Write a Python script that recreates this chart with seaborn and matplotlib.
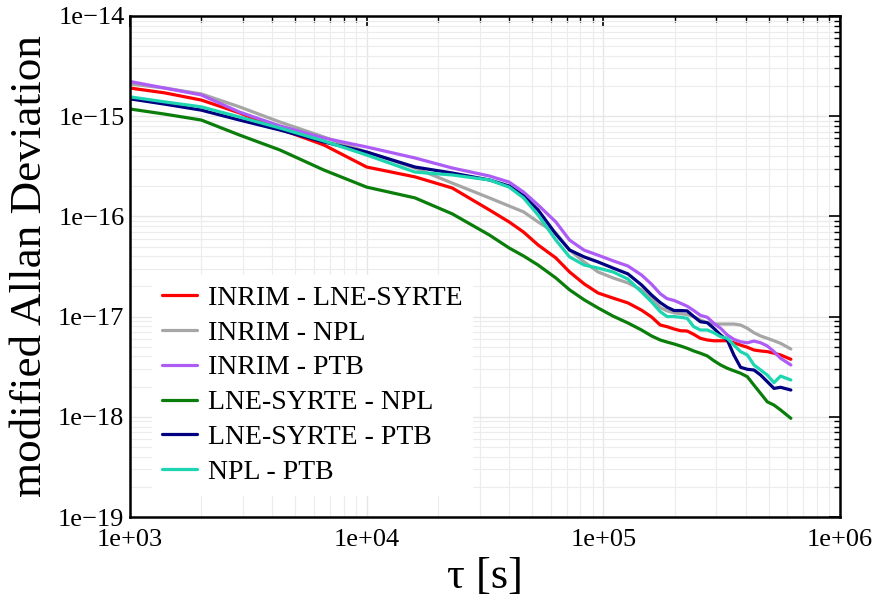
import numpy as np
import pandas as pd
import matplotlib
matplotlib.use("Agg")
import matplotlib.pyplot as plt
from matplotlib.ticker import FuncFormatter, FixedLocator, NullFormatter
import seaborn as sns

# Averaging times [s]
tau = [1000, 1400, 2000, 2900, 4300, 6600, 10000, 16000, 23000, 33000,
       40000, 46000, 53000, 63000, 72000, 83000, 95000, 110000, 127000, 145000,
       160000, 174000, 186000, 199000, 212000, 226000, 241000, 257000, 275000, 293000,
       313000, 334000, 356000, 380000, 406000, 433000, 462000, 493000, 526000, 561000,
       620000]

# Modified Allan deviation of each clock-pair comparison
inrim_lne = [1.91e-15, 1.71e-15, 1.45e-15, 1.08e-15, 7.45e-16, 5.16e-16, 3.11e-16, 2.48e-16, 1.92e-16, 1.16e-16,
             8.8e-17, 6.98e-17, 5.19e-17, 3.85e-17, 2.79e-17, 2.12e-17, 1.72e-17, 1.53e-17, 1.37e-17, 1.16e-17,
             9.9e-18, 8.24e-18, 7.93e-18, 7.52e-18, 7.23e-18, 7.18e-18, 6.65e-18, 6.07e-18, 5.84e-18, 5.74e-18,
             5.74e-18, 5.74e-18, 5.48e-18, 5.20e-18, 4.94e-18, 4.64e-18, 4.54e-18, 4.47e-18, 4.31e-18, 4.14e-18,
             3.75e-18]
inrim_npl = [2.10e-15, 1.91e-15, 1.67e-15, 1.24e-15, 8.75e-16, 6.20e-16, 4.39e-16, 3.04e-16, 2.15e-16, 1.53e-16,
             1.27e-16, 1.11e-16, 8.8e-17, 6.83e-17, 4.62e-17, 3.51e-17, 2.79e-17, 2.43e-17, 2.17e-17, 1.85e-17,
             1.53e-17, 1.23e-17, 1.14e-17, 1.09e-17, 1.07e-17, 1.05e-17, 1.0e-17, 9.25e-18, 8.69e-18, 8.43e-18,
             8.43e-18, 8.43e-18, 8.43e-18, 8.24e-18, 7.64e-18, 6.90e-18, 6.40e-18, 6.07e-18, 5.74e-18, 5.41e-18,
             4.75e-18]
inrim_ptb = [2.22e-15, 1.91e-15, 1.63e-15, 1.10e-15, 8.0e-16, 6.05e-16, 4.93e-16, 3.83e-16, 3.04e-16, 2.53e-16,
             2.20e-16, 1.75e-16, 1.30e-16, 8.8e-17, 5.8e-17, 4.6e-17, 4.1e-17, 3.6e-17, 3.2e-17, 2.6e-17,
             2.1e-17, 1.69e-17, 1.51e-17, 1.45e-17, 1.36e-17, 1.27e-17, 1.15e-17, 1.03e-17, 9.84e-18, 8.57e-18,
             7.64e-18, 6.55e-18, 5.93e-18, 5.61e-18, 5.48e-18, 5.70e-18, 5.48e-18, 5.09e-18, 4.47e-18, 3.84e-18,
             3.29e-18]
lne_npl = [1.18e-15, 1.05e-15, 9.16e-16, 6.49e-16, 4.60e-16, 2.90e-16, 1.96e-16, 1.53e-16, 1.06e-16, 6.52e-17,
           4.84e-17, 4.03e-17, 3.27e-17, 2.43e-17, 1.85e-17, 1.47e-17, 1.22e-17, 1.01e-17, 8.64e-18, 7.35e-18,
           6.40e-18, 5.84e-18, 5.57e-18, 5.33e-18, 5.09e-18, 4.83e-18, 4.54e-18, 4.31e-18, 4.05e-18, 3.63e-18,
           3.29e-18, 3.05e-18, 2.88e-18, 2.72e-18, 2.51e-18, 2.07e-18, 1.71e-18, 1.41e-18, 1.31e-18, 1.17e-18,
           9.66e-19]
lne_ptb = [1.49e-15, 1.32e-15, 1.15e-15, 9.16e-16, 7.28e-16, 5.53e-16, 4.39e-16, 3.11e-16, 2.71e-16, 2.31e-16,
           2.01e-16, 1.60e-16, 1.16e-16, 6.67e-17, 4.62e-17, 3.94e-17, 3.51e-17, 3.05e-17, 2.67e-17, 2.07e-17,
           1.64e-17, 1.38e-17, 1.24e-17, 1.15e-17, 1.15e-17, 1.14e-17, 1.0e-17, 8.89e-18, 8.69e-18, 7.64e-18,
           6.55e-18, 5.84e-18, 4.14e-18, 3.12e-18, 2.98e-18, 2.93e-18, 2.61e-18, 2.24e-18, 1.92e-18, 1.97e-18,
           1.85e-18]
npl_ptb = [1.56e-15, 1.39e-15, 1.24e-15, 9.82e-16, 7.62e-16, 5.65e-16, 4.10e-16, 2.77e-16, 2.59e-16, 2.31e-16,
           1.96e-16, 1.53e-16, 1.03e-16, 5.81e-17, 3.94e-17, 3.27e-17, 3.05e-17, 2.79e-17, 2.37e-17, 1.76e-17,
           1.40e-17, 1.12e-17, 1.0e-17, 1.0e-17, 9.84e-18, 9.62e-18, 7.93e-18, 7.35e-18, 7.35e-18, 6.90e-18,
           6.30e-18, 6.07e-18, 5.20e-18, 4.47e-18, 4.14e-18, 3.29e-18, 2.93e-18, 2.61e-18, 2.19e-18, 2.55e-18,
           2.33e-18]

pairs = ["INRIM - LNE-SYRTE", "INRIM - NPL", "INRIM - PTB",
         "LNE-SYRTE - NPL", "LNE-SYRTE - PTB", "NPL - PTB"]
series = [inrim_lne, inrim_npl, inrim_ptb, lne_npl, lne_ptb, npl_ptb]
colors = ["#ff0000", "#a6a6a6", "#ad5cf5", "#0b7d0b", "#000080", "#1dd5b1"]

# Decades shown on each axis
x_decades = [3, 4, 5, 6]
y_decades = [-19, -18, -17, -16, -15, -14]

df = pd.concat(
    [pd.DataFrame({"tau": tau, "mdev": vals, "pair": name}) for name, vals in zip(pairs, series)],
    ignore_index=True,
)

sns.set_theme(style="white")
plt.rcParams["font.family"] = ["Liberation Serif", "DejaVu Serif"]
plt.rcParams["axes.unicode_minus"] = True
plt.rcParams["text.color"] = "black"
plt.rcParams["axes.labelcolor"] = "black"
plt.rcParams["xtick.color"] = "black"
plt.rcParams["ytick.color"] = "black"

fig = plt.figure(figsize=(8.8, 6.06), dpi=100)
ax = fig.add_axes([130 / 880, 1 - 517 / 606, 710 / 880, 501 / 606])

sns.lineplot(data=df, x="tau", y="mdev", hue="pair", hue_order=pairs,
             palette=dict(zip(pairs, colors)), linewidth=2.3, sort=False,
             errorbar=None, ax=ax)

ax.set_xscale("log")
ax.set_yscale("log")
ax.set_xlim(10.0 ** x_decades[0], 10.0 ** x_decades[-1])
ax.set_ylim(10.0 ** y_decades[0], 10.0 ** y_decades[-1])


def minor_positions(decades):
    return [m * 10.0 ** d for d in decades[:-1] for m in range(2, 10)]


ax.xaxis.set_major_locator(FixedLocator([10.0 ** d for d in x_decades]))
ax.yaxis.set_major_locator(FixedLocator([10.0 ** d for d in y_decades]))
ax.xaxis.set_minor_locator(FixedLocator(minor_positions(x_decades)))
ax.yaxis.set_minor_locator(FixedLocator(minor_positions(y_decades)))
ax.xaxis.set_minor_formatter(NullFormatter())
ax.yaxis.set_minor_formatter(NullFormatter())


def sci_label(v, pos):
    e = int(round(np.log10(v)))
    sign = "+" if e >= 0 else "\u2212"
    return f"1e{sign}{abs(e):02d}"


ax.xaxis.set_major_formatter(FuncFormatter(sci_label))
ax.yaxis.set_major_formatter(FuncFormatter(sci_label))

ax.grid(True, which="major", color="#e6e6e6", linewidth=1.0)
ax.grid(True, which="minor", color="#ececec", linewidth=0.8)
ax.set_axisbelow(True)

ax.tick_params(which="both", direction="in", top=True, right=True, colors="black")
ax.tick_params(which="major", length=8, width=1.2, labelsize=19)
ax.tick_params(which="minor", length=4, width=1.0)
ax.tick_params(axis="x", which="major", pad=9)
ax.tick_params(axis="y", which="major", pad=4)
for s in ax.spines.values():
    s.set_visible(True)
    s.set_color("black")
    s.set_linewidth(1.8)

ax.set_xlabel("\u03c4 [s]", fontsize=32, labelpad=4, color="black")
ax.set_ylabel("modified Allan Deviation", fontsize=32.5, labelpad=6, color="black")

handles, labels = ax.get_legend_handles_labels()
leg = ax.legend(handles, labels, loc="lower left", fontsize=20,
                handlelength=1.25, handletextpad=0.4, labelspacing=0.34,
                borderpad=0.35, borderaxespad=0.8, frameon=True, fancybox=False,
                framealpha=1.0, facecolor="white", edgecolor="white")
for h in leg.get_lines():
    h.set_linewidth(2.3)
for t in leg.get_texts():
    t.set_color("black")

fig.savefig("out.png", dpi=100)
